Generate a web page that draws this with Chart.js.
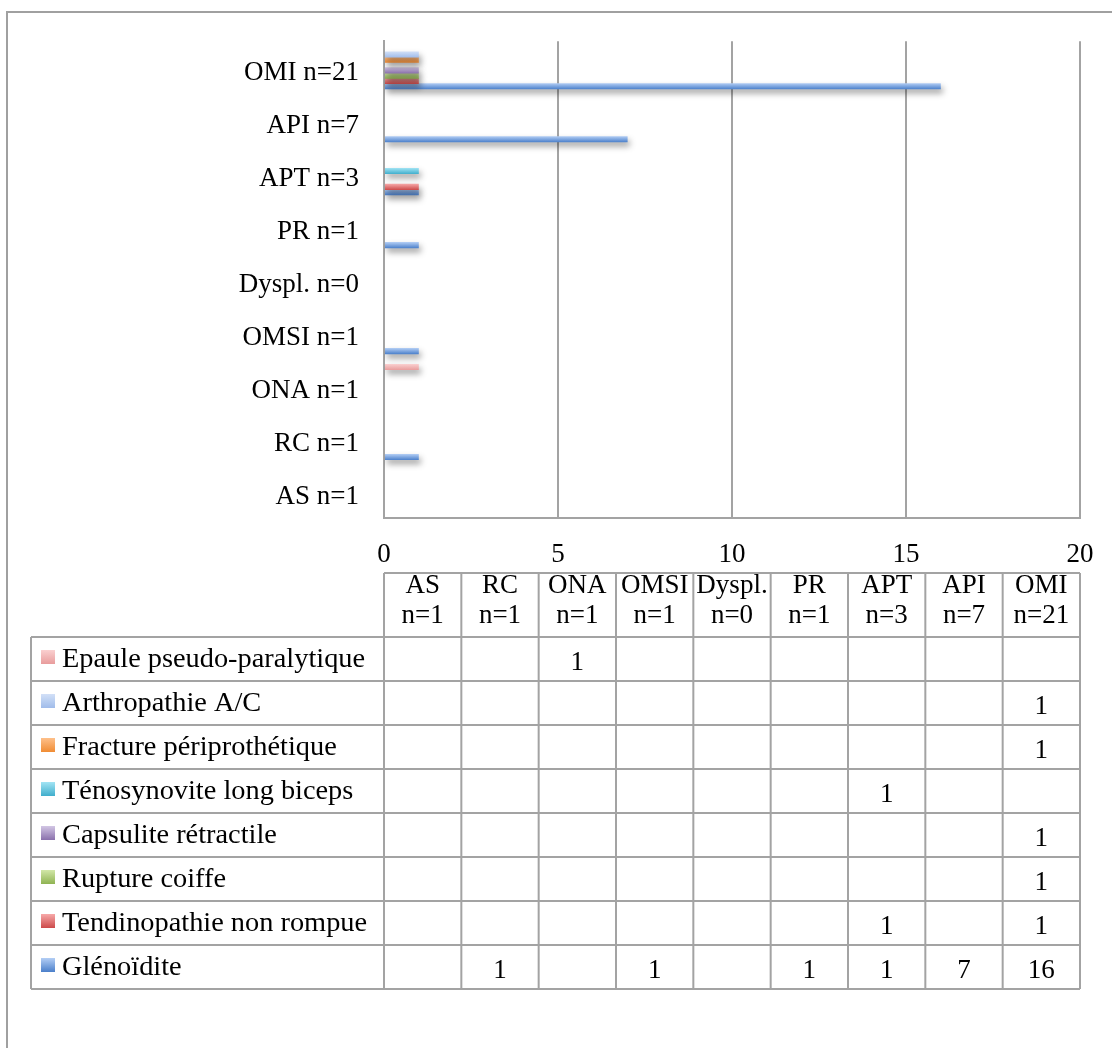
<!DOCTYPE html>
<html>
<head>
<meta charset="utf-8">
<title>Diagnostics par catégorie</title>
<script src="https://cdn.jsdelivr.net/npm/chart.js@4/dist/chart.umd.min.js"></script>
<style>
  html, body { margin: 0; padding: 0; background: #fff; }
  #wrap { position: relative; width: 1112px; height: 1048px; }
</style>
</head>
<body>
<div id="wrap"><canvas id="c" width="1112" height="1048"></canvas></div>
<script>
// Categories (table columns, left to right; drawn bottom to top on the chart)
const categories = ['AS n=1', 'RC n=1', 'ONA n=1', 'OMSI n=1', 'Dyspl. n=0', 'PR n=1', 'APT n=3', 'API n=7', 'OMI n=21'];

// Series names (table rows, top to bottom)
const seriesNames = ['Epaule pseudo-paralytique', 'Arthropathie A/C', 'Fracture périprothétique',
  'Ténosynovite long biceps', 'Capsulite rétractile', 'Rupture coiffe',
  'Tendinopathie non rompue', 'Glénoïdite'];

// Counts per category (null = empty cell)
const epaule        = [null, null, 1, null, null, null, null, null, null];
const arthropathie  = [null, null, null, null, null, null, null, null, 1];
const fracture      = [null, null, null, null, null, null, null, null, 1];
const tenosynovite  = [null, null, null, null, null, null, 1, null, null];
const capsulite     = [null, null, null, null, null, null, null, null, 1];
const rupture       = [null, null, null, null, null, null, null, null, 1];
const tendinopathie = [null, null, null, null, null, null, 1, null, 1];
const glenoidite    = [null, 1, null, 1, null, 1, 1, 7, 16];

const seriesValues = [epaule, arthropathie, fracture, tenosynovite, capsulite, rupture, tendinopathie, glenoidite];

// Value axis ticks
const xTicks = [0, 5, 10, 15, 20];

// Light / dark gradient stops per series
const palette = [
  ['#FAD0D0', '#E89C9C'],
  ['#D2E0F7', '#A0BCEA'],
  ['#FEC08A', '#F08C34'],
  ['#A2E4F4', '#40AECC'],
  ['#D2C6E4', '#8A70AC'],
  ['#D2E7A8', '#8FB352'],
  ['#F7A9A9', '#CC4A4A'],
  ['#B3CEF5', '#4A7FCA']
];

const FONT = "'Liberation Serif', 'Times New Roman', serif";
const GRID = '#a3a3a3';

const datasets = seriesNames.map((name, i) => ({
  label: name,
  data: seriesValues[i],
  backgroundColor: palette[i][1],
  borderWidth: 0,
  categoryPercentage: 0.8,
  barPercentage: 1.15
}));

// Gradient fill and soft drop shadow on the bars
const barStyle = {
  id: 'barStyle',
  beforeDatasetsDraw(chart) {
    const ctx = chart.ctx;
    ctx.save();
    ctx.shadowColor = 'rgba(0,0,0,0.38)';
    ctx.shadowBlur = 6;
    ctx.shadowOffsetX = 2;
    ctx.shadowOffsetY = 4;
  },
  beforeDatasetDraw(chart, args) {
    const ctx = chart.ctx;
    const [c1, c2] = palette[args.index];
    args.meta.data.forEach(el => {
      if (!el || el.height == null || isNaN(el.y)) return;
      const top = el.y - el.height / 2;
      const bot = el.y + el.height / 2;
      const g = ctx.createLinearGradient(0, top, 0, bot);
      g.addColorStop(0, c1);
      g.addColorStop(1, c2);
      el.options = Object.assign({}, el.options, { backgroundColor: g });
    });
  },
  afterDatasetsDraw(chart) {
    chart.ctx.restore();
  }
};

// Data table under the chart, plus the outer frame
const dataTable = {
  id: 'dataTable',
  afterDraw(chart) {
    const ctx = chart.ctx;
    const area = chart.chartArea;
    const left = area.left, right = area.right;
    const colW = (right - left) / categories.length;
    const headTop = 573, headBot = 637, rowH = 44;
    const legendLeft = 31;
    const tableBot = headBot + rowH * seriesNames.length;

    ctx.save();
    // outer frame
    ctx.strokeStyle = '#a0a0a0';
    ctx.lineWidth = 2;
    ctx.beginPath();
    ctx.moveTo(7, 1048); ctx.lineTo(7, 12); ctx.lineTo(1112, 12);
    ctx.stroke();

    // grid lines of the table
    ctx.strokeStyle = GRID;
    ctx.lineWidth = 2;
    ctx.beginPath();
    ctx.moveTo(left, headTop); ctx.lineTo(right, headTop);
    for (let r = 0; r <= seriesNames.length; r++) {
      const y = headBot + r * rowH;
      ctx.moveTo(legendLeft, y); ctx.lineTo(right, y);
    }
    for (let c = 0; c <= categories.length; c++) {
      const x = left + c * colW;
      ctx.moveTo(x, headTop); ctx.lineTo(x, tableBot);
    }
    ctx.moveTo(legendLeft, headBot); ctx.lineTo(legendLeft, tableBot);
    ctx.stroke();

    ctx.fillStyle = '#000';
    ctx.font = '27px ' + FONT;
    ctx.textBaseline = 'middle';
    ctx.textAlign = 'center';

    // header cells on two lines
    categories.forEach((cat, c) => {
      const cx = left + (c + 0.5) * colW;
      const k = cat.indexOf(' ');
      ctx.fillText(cat.slice(0, k), cx, 586);
      ctx.fillText(cat.slice(k + 1), cx, 616);
    });

    // rows: legend swatch, name, values
    seriesNames.forEach((name, r) => {
      const top = headBot + r * rowH;
      const cy = top + rowH / 2;
      const sw = 14;
      const sy = cy - sw / 2 - 2;
      const g = ctx.createLinearGradient(0, sy, 0, sy + sw);
      g.addColorStop(0, palette[r][0]);
      g.addColorStop(1, palette[r][1]);
      ctx.fillStyle = g;
      ctx.fillRect(41, sy, sw, sw);

      ctx.fillStyle = '#000';
      ctx.textAlign = 'left';
      // row names are set slightly wider than the base face
      ctx.save();
      ctx.translate(62, cy + 1);
      ctx.scale(1.05, 1);
      ctx.fillText(name, 0, 0);
      ctx.restore();
      ctx.textAlign = 'center';
      seriesValues[r].forEach((v, c) => {
        if (v === null) return;
        ctx.fillText(String(v), left + (c + 0.5) * colW, cy + 4);
      });
    });
    ctx.restore();
  }
};

new Chart(document.getElementById('c'), {
  type: 'bar',
  data: { labels: categories, datasets },
  options: {
    indexAxis: 'y',
    responsive: false,
    animation: false,
    events: [],
    layout: { padding: { left: 0, right: 32, top: 38, bottom: 430 } },
    plugins: {
      legend: { display: false },
      tooltip: { enabled: false },
      title: { display: false }
    },
    scales: {
      x: {
        type: 'linear',
        min: xTicks[0],
        max: xTicks[xTicks.length - 1],
        afterBuildTicks(scale) { scale.ticks = xTicks.map(v => ({ value: v })); },
        afterFit(scale) { scale.height = 100; scale.paddingLeft = 0; scale.paddingRight = 0; },
        ticks: { color: '#000', font: { family: FONT, size: 27 }, padding: 21 },
        grid: { color: GRID, lineWidth: 2, drawTicks: false },
        border: { display: true, color: GRID, width: 2 }
      },
      y: {
        reverse: true,
        afterFit(scale) { scale.width = 384; },
        ticks: { color: '#000', font: { family: FONT, size: 27 }, padding: 25, labelOffset: 5 },
        grid: { display: true, color: 'rgba(0,0,0,0)', drawTicks: false },
        border: { display: true, color: GRID, width: 2 }
      }
    }
  },
  plugins: [barStyle, dataTable]
});
</script>
</body>
</html>
